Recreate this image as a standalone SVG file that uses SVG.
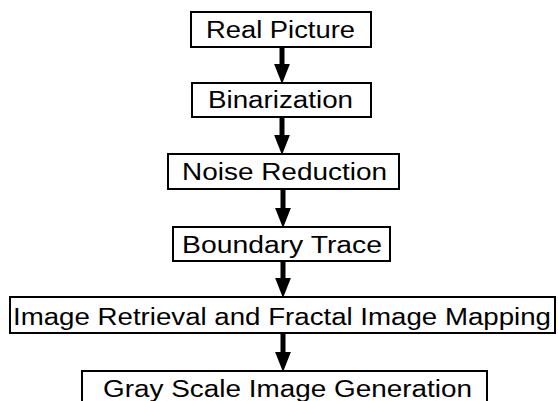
<svg xmlns="http://www.w3.org/2000/svg" width="558" height="401" viewBox="0 0 558 401">
<style>
.box{fill:#fff;stroke:#000;stroke-width:2}
.lbl{font-family:"Liberation Sans",Arial,sans-serif;font-size:23.5px;fill:#000}
.conn line{stroke:#000;stroke-width:5}
</style>
<defs>
<marker id="ah" markerUnits="userSpaceOnUse" markerWidth="16" markerHeight="20" refX="7.5" refY="1" viewBox="0 0 15 19" orient="0" overflow="visible">
<path d="M0,0 L15,0 L7.5,19 Z" fill="#000"/>
</marker>
</defs>
<rect width="558" height="401" fill="#fff"/>
<g id="n1"><rect class="box" x="191" y="12" width="180" height="35"/><text class="lbl" x="206" y="37.5" textLength="149" lengthAdjust="spacingAndGlyphs">Real Picture</text></g>
<g id="n2"><rect class="box" x="192" y="83" width="179" height="34"/><text class="lbl" x="208" y="107.5" textLength="145" lengthAdjust="spacingAndGlyphs">Binarization</text></g>
<g id="n3"><rect class="box" x="168" y="154" width="231" height="35"/><text class="lbl" x="182" y="180" textLength="205" lengthAdjust="spacingAndGlyphs">Noise Reduction</text></g>
<g id="n4"><rect class="box" x="173" y="227" width="217" height="34"/><text class="lbl" x="182" y="253" textLength="200" lengthAdjust="spacingAndGlyphs">Boundary Trace</text></g>
<g id="n5"><rect class="box" x="10" y="297" width="545" height="36"/><text class="lbl" x="13" y="325" textLength="538" lengthAdjust="spacingAndGlyphs">Image Retrieval and Fractal Image Mapping</text></g>
<g id="n6"><rect class="box" x="82" y="371" width="405" height="40"/><text class="lbl" x="103" y="397" textLength="369" lengthAdjust="spacingAndGlyphs">Gray Scale Image Generation</text></g>
<g class="conn" id="connectors">
<line x1="282" y1="48" x2="282" y2="65" marker-end="url(#ah)"/>
<line x1="282" y1="118" x2="282" y2="136" marker-end="url(#ah)"/>
<line x1="283" y1="190" x2="283" y2="209" marker-end="url(#ah)"/>
<line x1="283" y1="262" x2="283" y2="279" marker-end="url(#ah)"/>
<line x1="283" y1="334" x2="283" y2="353" marker-end="url(#ah)"/>
</g>
</svg>
